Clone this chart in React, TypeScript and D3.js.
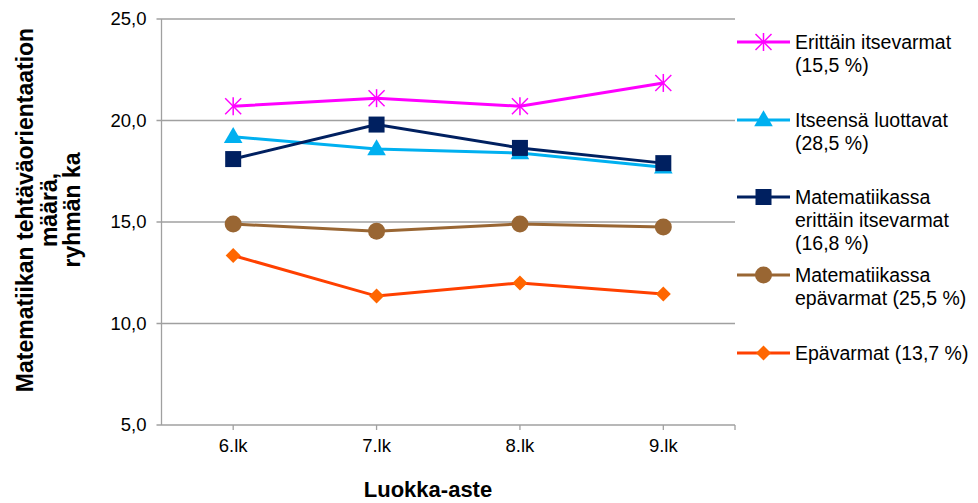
import React from "react";
import * as d3 from "d3";

const categories = ["6.lk", "7.lk", "8.lk", "9.lk"];
const yTicks = [5, 10, 15, 20, 25];

const seriesNames = [
  ["Erittäin itsevarmat", "(15,5 %)"],
  ["Itseensä luottavat", "(28,5 %)"],
  ["Matematiikassa", "erittäin itsevarmat", "(16,8 %)"],
  ["Matematiikassa", "epävarmat (25,5 %)"],
  ["Epävarmat (13,7 %)"],
];
const erittainItsevarmat = [20.7, 21.1, 20.7, 21.85];
const itseensaLuottavat = [19.2, 18.6, 18.4, 17.7];
const matErittainItsevarmat = [18.1, 19.8, 18.65, 17.9];
const matEpavarmat = [14.9, 14.55, 14.9, 14.75];
const epavarmat = [13.35, 11.35, 12.0, 11.45];

const seriesValues = [erittainItsevarmat, itseensaLuottavat, matErittainItsevarmat, matEpavarmat, epavarmat];
const lineColors = ["#FF00FF", "#00B0F0", "#002060", "#996633", "#FF4000"];
const markerColors = ["#FF00FF", "#00B0F0", "#002060", "#996633", "#FF6600"];
const markerTypes = ["star", "triangle", "square", "circle", "diamond"];

const W = 978, H = 503;
const left = 161.5, right = 735, top = 19, bottom = 425;
const FONT = "'Liberation Sans', Arial, sans-serif";

function Marker({ type, x, y, color }: { type: string; x: number; y: number; color: string }) {
  if (type === "star") {
    const s = 8;
    return (
      <g stroke={color} strokeWidth={1.5}>
        <line x1={x - s} y1={y - s} x2={x + s} y2={y + s} />
        <line x1={x - s} y1={y + s} x2={x + s} y2={y - s} />
        <line x1={x} y1={y - s - 1} x2={x} y2={y + s + 1} />
      </g>
    );
  }
  if (type === "triangle") {
    const p = d3.symbol(d3.symbolTriangle, 150)();
    return <path d={p!} transform={`translate(${x},${y + 1})`} fill={color} />;
  }
  if (type === "square") {
    return <rect x={x - 8} y={y - 8} width={16} height={16} fill={color} />;
  }
  if (type === "circle") {
    return <circle cx={x} cy={y} r={8.5} fill={color} />;
  }
  const s = 7.5;
  return <path d={`M${x},${y - s}L${x + s},${y}L${x},${y + s}L${x - s},${y}Z`} fill={color} />;
}

export default function App() {
  const x = d3.scaleBand().domain(categories).range([left, right]);
  const y = d3.scaleLinear().domain([5, 25]).range([bottom, top]);
  const cx = (c: string) => (x(c) as number) + x.bandwidth() / 2;
  const line = d3.line<number>().x((_, i) => cx(categories[i])).y((v) => y(v));

  const legendY = [42, 120, 197, 275, 353];
  const lh = 23;

  return (
    <svg width={W} height={H} style={{ position: "absolute", left: 0, top: 0, background: "#fff" }} fontFamily={FONT}>
      {yTicks.map((t) => (
        <line key={"g" + t} x1={left - 5} x2={right} y1={y(t)} y2={y(t)} stroke="#A0A0A0" strokeWidth={1.3} />
      ))}
      <line x1={left} x2={left} y1={top} y2={bottom} stroke="#A0A0A0" strokeWidth={1.3} />
      {categories.map((c) => (
        <line key={"xt" + c} x1={cx(c)} x2={cx(c)} y1={bottom} y2={bottom + 5} stroke="#A0A0A0" strokeWidth={1.3} />
      ))}
      <line x1={right} x2={right} y1={bottom} y2={bottom + 5} stroke="#A0A0A0" strokeWidth={1.3} />
      {yTicks.map((t) => (
        <text key={"yl" + t} x={left - 15} y={y(t)} dy="0.35em" textAnchor="end" fontSize={18.5} fill="#000">
          {t.toFixed(1).replace(".", ",")}
        </text>
      ))}
      {categories.map((c) => (
        <text key={"xl" + c} x={cx(c)} y={452} textAnchor="middle" fontSize={18.5} fill="#000">
          {c}
        </text>
      ))}
      <text x={428} y={497} textAnchor="middle" fontSize={22} fontWeight="bold">
        Luokka-aste
      </text>
      <g transform="translate(0,210) rotate(-90)" fontSize={23} fontWeight="bold" textAnchor="middle">
        <text x={0} y={33}>Matematiikan tehtäväorientaation</text>
        <text x={0} y={57}>määrä,</text>
        <text x={0} y={80}>ryhmän ka</text>
      </g>
      {seriesValues.map((vals, si) => (
        <g key={"s" + si}>
          <path d={line(vals)!} fill="none" stroke={lineColors[si]} strokeWidth={3} />
          {vals.map((v, i) => (
            <Marker key={i} type={markerTypes[si]} x={cx(categories[i])} y={y(v)} color={markerColors[si]} />
          ))}
        </g>
      ))}
      {seriesNames.map((lines, si) => (
        <g key={"lg" + si}>
          <line x1={737} x2={790} y1={legendY[si]} y2={legendY[si]} stroke={lineColors[si]} strokeWidth={3} />
          <Marker type={markerTypes[si]} x={763.5} y={legendY[si]} color={markerColors[si]} />
          {lines.map((t, li) => (
            <text key={li} x={795} y={legendY[si] + li * lh} dy="0.35em" fontSize={19.5} fill="#000">
              {t}
            </text>
          ))}
        </g>
      ))}
    </svg>
  );
}
